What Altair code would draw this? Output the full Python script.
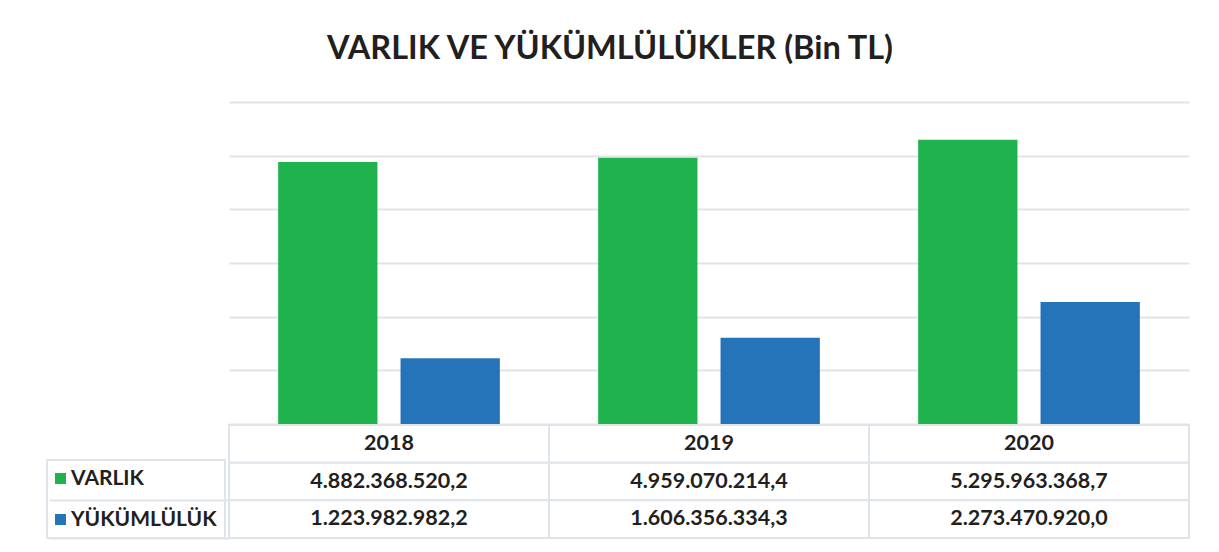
import altair as alt
import pandas as pd

years = ["2018", "2019", "2020"]
series = ["VARLIK", "YÜKÜMLÜLÜK"]
varlik = [4882368520.2, 4959070214.4, 5295963368.7]
yukumluluk = [1223982982.2, 1606356334.3, 2273470920.0]
colors = ["#21B250", "#2574BA"]
y_ticks = [0, 1e9, 2e9, 3e9, 4e9, 5e9, 6e9]
rows = ["header", "VARLIK", "YÜKÜMLÜLÜK"]

FONT = "Lato"
TXT = "#231f20"
LINE = "#dfe4ea"

bar_df = pd.DataFrame(
    [{"year": y, "series": "VARLIK", "value": v} for y, v in zip(years, varlik)]
    + [{"year": y, "series": "YÜKÜMLÜLÜK", "value": v} for y, v in zip(years, yukumluluk)]
)
cell_df = pd.DataFrame([{"year": y, "row": r} for y in years for r in rows])
head_df = pd.DataFrame([{"year": y, "row": "header"} for y in years])
val_df = bar_df.rename(columns={"series": "row"})

x_scale = alt.Scale(domain=years, paddingInner=0, paddingOuter=0)

bars = alt.Chart(bar_df).mark_bar().encode(
    x=alt.X("year:N", scale=x_scale, axis=None),
    xOffset=alt.XOffset("series:N", scale=alt.Scale(domain=series, paddingInner=0.1885, paddingOuter=0.4016)),
    y=alt.Y("value:Q", scale=alt.Scale(domain=[0, 6e9]),
            axis=alt.Axis(values=y_ticks, labels=False, ticks=False, domain=False, grid=True,
                          gridColor=LINE, gridWidth=2, title=None)),
    color=alt.Color("series:N", scale=alt.Scale(domain=series, range=colors),
                    legend=alt.Legend(title=None, orient="none", legendX=-182, legendY=358,
                                      direction="vertical", symbolType="square", symbolSize=121,
                                      symbolStrokeWidth=0, symbolOffset=-5, labelFont=FONT,
                                      labelFontSize=21, labelFontWeight="bold", labelColor=TXT,
                                      labelOffset=0, rowPadding=19, padding=8, strokeColor=LINE)),
).properties(width=960, height=322)

y_tab = alt.Y("row:N", scale=alt.Scale(domain=rows, paddingInner=0, paddingOuter=0),
              axis=alt.Axis(values=["YÜKÜMLÜLÜK"], labels=False, domain=False, ticks=True,
                            tickBand="extent", tickExtra=False, tickSize=180, tickColor=LINE,
                            tickWidth=2, grid=False, title=None))
x_tab = alt.X("year:N", scale=x_scale, axis=None)

rect = alt.Chart(cell_df).mark_rect(fill="white", stroke=LINE, strokeWidth=2).encode(x=x_tab, y=y_tab)
head = alt.Chart(head_df).mark_text(font=FONT, fontSize=21.5, fontWeight="bold", color=TXT).encode(
    x=x_tab, y=y_tab, text="year:N")
vals = alt.Chart(val_df).mark_text(font=FONT, fontSize=21.5, fontWeight="bold", color=TXT).encode(
    x=x_tab, y=y_tab, text=alt.Text("value:Q", format=",.1f"))

table = alt.layer(rect, head, vals).properties(width=960, height=113)

chart = alt.vconcat(bars, table, spacing=0).properties(
    title=alt.TitleParams("VARLIK VE YÜKÜMLÜLÜKLER (Bin TL)", font=FONT, fontSize=32.5,
                          fontWeight="bold", color=TXT, anchor="middle", offset=37, dx=-8),
    padding={"left": 38, "top": 24, "right": 5, "bottom": 5},
    background="white",
).configure(
    locale={"number": {"decimal": ",", "thousands": ".", "grouping": [3], "currency": ["", " TL"]}},
    view=alt.ViewConfig(strokeWidth=0, stroke=None),
    legend=alt.LegendConfig(strokeWidth=2),
)

chart.save("out.html", embed_options={"renderer": "svg", "actions": False})
